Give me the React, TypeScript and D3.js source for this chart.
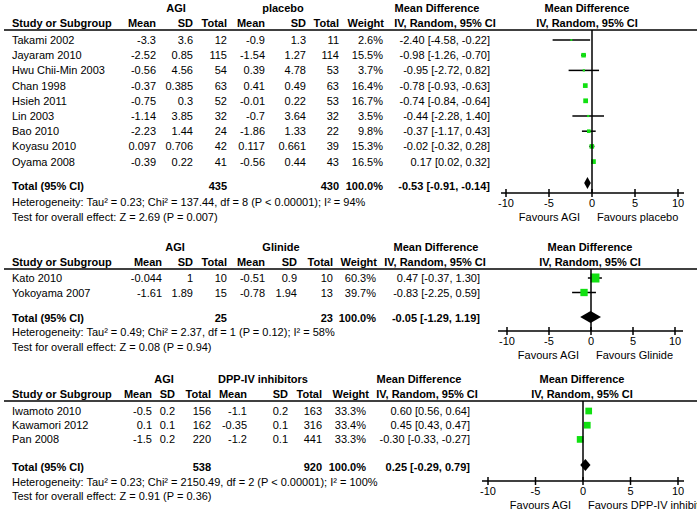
import React from 'react';
import * as d3 from 'd3';

// ---------- DATA ----------
const axisTicks = [-10, -5, 0, 5, 10];

// Panel 1: AGI vs placebo
const studies1 = ['Takami 2002', 'Jayaram 2010', 'Hwu Chii-Min 2003', 'Chan 1998', 'Hsieh 2011', 'Lin 2003', 'Bao 2010', 'Koyasu 2010', 'Oyama 2008'];
const agiMean1 = [-3.3, -2.52, -0.56, -0.37, -0.75, -1.14, -2.23, 0.097, -0.39];
const agiSD1 = [3.6, 0.85, 4.56, 0.385, 0.3, 3.85, 1.44, 0.706, 0.22];
const agiN1 = [12, 115, 54, 63, 52, 32, 24, 42, 41];
const ctlMean1 = [-0.9, -1.54, 0.39, 0.41, -0.01, -0.7, -1.86, 0.117, -0.56];
const ctlSD1 = [1.3, 1.27, 4.78, 0.49, 0.22, 3.64, 1.33, 0.661, 0.44];
const ctlN1 = [11, 114, 53, 63, 53, 32, 22, 39, 43];
const weight1 = [2.6, 15.5, 3.7, 16.4, 16.7, 3.5, 9.8, 15.3, 16.5];
const md1 = [-2.4, -0.98, -0.95, -0.78, -0.74, -0.44, -0.37, -0.02, 0.17];
const lo1 = [-4.58, -1.26, -2.72, -0.93, -0.84, -2.28, -1.17, -0.32, 0.02];
const hi1 = [-0.22, -0.7, 0.82, -0.63, -0.64, 1.4, 0.43, 0.28, 0.32];
const total1 = { agiN: 435, ctlN: 430, md: -0.53, lo: -0.91, hi: -0.14 };
const het1 = 'Heterogeneity: Tau² = 0.23; Chi² = 137.44, df = 8 (P < 0.00001); I² = 94%';
const test1 = 'Test for overall effect: Z = 2.69 (P = 0.007)';

// Panel 2: AGI vs Glinide
const studies2 = ['Kato 2010', 'Yokoyama 2007'];
const agiMean2 = [-0.044, -1.61];
const agiSD2 = [1, 1.89];
const agiN2 = [10, 15];
const ctlMean2 = [-0.51, -0.78];
const ctlSD2 = [0.9, 1.94];
const ctlN2 = [10, 13];
const weight2 = [60.3, 39.7];
const md2 = [0.47, -0.83];
const lo2 = [-0.37, -2.25];
const hi2 = [1.3, 0.59];
const total2 = { agiN: 25, ctlN: 23, md: -0.05, lo: -1.29, hi: 1.19 };
const het2 = 'Heterogeneity: Tau² = 0.49; Chi² = 2.37, df = 1 (P = 0.12); I² = 58%';
const test2 = 'Test for overall effect: Z = 0.08 (P = 0.94)';

// Panel 3: AGI vs DPP-IV inhibitors
const studies3 = ['Iwamoto 2010', 'Kawamori 2012', 'Pan 2008'];
const agiMean3 = [-0.5, 0.1, -1.5];
const agiSD3 = [0.2, 0.1, 0.2];
const agiN3 = [156, 162, 220];
const ctlMean3 = [-1.1, -0.35, -1.2];
const ctlSD3 = [0.2, 0.1, 0.1];
const ctlN3 = [163, 316, 441];
const weight3 = [33.3, 33.4, 33.3];
const md3 = [0.6, 0.45, -0.3];
const lo3 = [0.56, 0.43, -0.33];
const hi3 = [0.64, 0.47, -0.27];
const total3 = { agiN: 538, ctlN: 920, md: 0.25, lo: -0.29, hi: 0.79 };
const het3 = 'Heterogeneity: Tau² = 0.23; Chi² = 2150.49, df = 2 (P < 0.00001); I² = 100%';
const test3 = 'Test for overall effect: Z = 0.91 (P = 0.36)';

// ---------- LAYOUT ----------
const W = 697;
const H = 511;
const FONT = "'Liberation Sans', Arial, Helvetica, sans-serif";
const FS = 11;
const GREEN = '#11e011';

const sizeScale = d3.scaleSqrt().domain([0, 100]).range([0, 11.6]);

const fmt2 = (v: number) => v.toFixed(2);
const fmtCI = (m: number, l: number, h: number) => `${fmt2(m)} [${fmt2(l)}, ${fmt2(h)}]`;

type Layout = {
  line: number; row0: number; step: number; total: number; het: number; test: number;
  axis: number; diamond: number;
  cols: { study: number; aM: number; aSD: number; aN: number; cM: number; cSD: number; cN: number; w: number; wH: number; ci: number };
  agiC: number; ctlC: number; mdC1: number; mdC2: number; fC: number;
  x0: number; x1: number; lineL: number; lineR: number;
};

type PanelData = {
  ctlName: string; favours: string;
  studies: string[]; aM: number[]; aSD: number[]; aN: number[]; cM: number[]; cSD: number[]; cN: number[];
  w: number[]; md: number[]; lo: number[]; hi: number[];
  total: { agiN: number; ctlN: number; md: number; lo: number; hi: number };
  het: string; test: string;
};

const panels: { d: PanelData; L: Layout }[] = [
  {
    d: { ctlName: 'placebo', favours: 'Favours placebo', studies: studies1, aM: agiMean1, aSD: agiSD1, aN: agiN1, cM: ctlMean1, cSD: ctlSD1, cN: ctlN1, w: weight1, md: md1, lo: lo1, hi: hi1, total: total1, het: het1, test: test1 },
    L: {
      line: 30, row0: 40, step: 15.2, total: 186, het: 202, test: 217, axis: 193, diamond: 183,
      cols: { study: 12, aM: 156, aSD: 193, aN: 227, cM: 265, cSD: 306, cN: 339, w: 383, wH: 384, ci: 490 },
      agiC: 176, ctlC: 283, mdC1: 437, mdC2: 445, fC: 587,
      x0: 506, x1: 678, lineL: 501, lineR: 684,
    },
  },
  {
    d: { ctlName: 'Glinide', favours: 'Favours Glinide', studies: studies2, aM: agiMean2, aSD: agiSD2, aN: agiN2, cM: ctlMean2, cSD: ctlSD2, cN: ctlN2, w: weight2, md: md2, lo: lo2, hi: hi2, total: total2, het: het2, test: test2 },
    L: {
      line: 269, row0: 278, step: 14.5, total: 318, het: 332, test: 347, axis: 331, diamond: 317,
      cols: { study: 12, aM: 162, aSD: 193, aN: 227, cM: 265, cSD: 297, cN: 333, w: 376, wH: 377, ci: 480 },
      agiC: 175, ctlC: 281, mdC1: 436, mdC2: 435, fC: 590,
      x0: 507, x1: 675, lineL: 498, lineR: 683,
    },
  },
  {
    d: { ctlName: 'DPP-IV inhibitors', favours: 'Favours DPP-IV inhibitors', studies: studies3, aM: agiMean3, aSD: agiSD3, aN: agiN3, cM: ctlMean3, cSD: ctlSD3, cN: ctlN3, w: weight3, md: md3, lo: lo3, hi: hi3, total: total3, het: het3, test: test3 },
    L: {
      line: 401, row0: 411, step: 14.2, total: 467, het: 482, test: 496, axis: 481, diamond: 465,
      cols: { study: 12, aM: 152, aSD: 175, aN: 211, cM: 247, cSD: 288, cN: 322, w: 366, wH: 369, ci: 470 },
      agiC: 164, ctlC: 263, mdC1: 419, mdC2: 427, fC: 582,
      x0: 488, x1: 678, lineL: 482, lineR: 684,
    },
  },
];

const T = (props: any) => (
  <text fontFamily={FONT} fontSize={FS} fill="#000" dominantBaseline="central" {...props} />
);

function Panel({ d, L }: { d: PanelData; L: Layout }) {
  const x = d3.scaleLinear().domain([-10, 10]).range([L.x0, L.x1]);
  const c = L.cols;
  const gh = L.line - 22;
  const ch = L.line - 7;
  const rowY = (i: number) => L.row0 + i * L.step;
  const zx = x(0);
  return (
    <g>
      {/* group headers */}
      <T x={L.agiC} y={gh} textAnchor="middle" fontWeight="bold">AGI</T>
      <T x={L.ctlC} y={gh} textAnchor="middle" fontWeight="bold">{d.ctlName}</T>
      <T x={L.mdC1} y={gh} textAnchor="middle" fontWeight="bold">Mean Difference</T>
      <T x={L.fC} y={gh} textAnchor="middle" fontWeight="bold">Mean Difference</T>
      {/* column headers */}
      <T x={c.study} y={ch} fontWeight="bold">Study or Subgroup</T>
      <T x={c.aM} y={ch} textAnchor="end" fontWeight="bold">Mean</T>
      <T x={c.aSD} y={ch} textAnchor="end" fontWeight="bold">SD</T>
      <T x={c.aN} y={ch} textAnchor="end" fontWeight="bold">Total</T>
      <T x={c.cM} y={ch} textAnchor="end" fontWeight="bold">Mean</T>
      <T x={c.cSD} y={ch} textAnchor="end" fontWeight="bold">SD</T>
      <T x={c.cN} y={ch} textAnchor="end" fontWeight="bold">Total</T>
      <T x={c.wH} y={ch} textAnchor="end" fontWeight="bold">Weight</T>
      <T x={L.mdC2} y={ch} textAnchor="middle" fontWeight="bold">IV, Random, 95% CI</T>
      <T x={L.fC} y={ch} textAnchor="middle" fontWeight="bold">IV, Random, 95% CI</T>
      <line x1={4} x2={W} y1={L.line} y2={L.line} stroke="#000" strokeWidth={1.5} />
      {/* rows */}
      {d.studies.map((s, i) => {
        const y = rowY(i);
        const sz = sizeScale(d.w[i]);
        return (
          <g key={s}>
            <T x={c.study} y={y}>{s}</T>
            <T x={c.aM} y={y} textAnchor="end">{String(d.aM[i])}</T>
            <T x={c.aSD} y={y} textAnchor="end">{String(d.aSD[i])}</T>
            <T x={c.aN} y={y} textAnchor="end">{String(d.aN[i])}</T>
            <T x={c.cM} y={y} textAnchor="end">{String(d.cM[i])}</T>
            <T x={c.cSD} y={y} textAnchor="end">{String(d.cSD[i])}</T>
            <T x={c.cN} y={y} textAnchor="end">{String(d.cN[i])}</T>
            <T x={c.w} y={y} textAnchor="end">{d.w[i].toFixed(1) + '%'}</T>
            <T x={c.ci} y={y} textAnchor="end">{fmtCI(d.md[i], d.lo[i], d.hi[i])}</T>
            <line x1={x(d.lo[i])} x2={x(d.hi[i])} y1={y} y2={y} stroke="#000" strokeWidth={1.5} />
            <rect x={x(d.md[i]) - sz / 2} y={y - sz / 2} width={sz} height={sz} fill={GREEN} />
          </g>
        );
      })}
      {/* totals */}
      <T x={c.study} y={L.total} fontWeight="bold">Total (95% CI)</T>
      <T x={c.aN} y={L.total} textAnchor="end" fontWeight="bold">{String(d.total.agiN)}</T>
      <T x={c.cN} y={L.total} textAnchor="end" fontWeight="bold">{String(d.total.ctlN)}</T>
      <T x={c.w} y={L.total} textAnchor="end" fontWeight="bold">100.0%</T>
      <T x={c.ci} y={L.total} textAnchor="end" fontWeight="bold">{fmtCI(d.total.md, d.total.lo, d.total.hi)}</T>
      <T x={c.study} y={L.het}>{d.het}</T>
      <T x={c.study} y={L.test}>{d.test}</T>
      {/* zero line */}
      <line x1={zx} x2={zx} y1={L.line} y2={L.axis} stroke="#000" strokeWidth={1.5} />
      {/* diamond */}
      <path
        d={`M${x(d.total.lo)},${L.diamond} L${x(d.total.md)},${L.diamond - 6} L${x(d.total.hi)},${L.diamond} L${x(d.total.md)},${L.diamond + 6} Z`}
        fill="#000"
      />
      {/* axis */}
      <line x1={L.lineL} x2={L.lineR} y1={L.axis} y2={L.axis} stroke="#000" strokeWidth={1.5} />
      {axisTicks.map((t) => (
        <g key={t}>
          <line x1={x(t)} x2={x(t)} y1={L.axis - 4} y2={L.axis + 4} stroke="#000" strokeWidth={1.5} />
          <T x={x(t)} y={L.axis + 10} textAnchor="middle">{String(t)}</T>
        </g>
      ))}
      <T x={zx - 12} y={L.axis + 24} textAnchor="end">Favours AGI</T>
      <T x={zx + 5} y={L.axis + 24}>{d.favours}</T>
    </g>
  );
}

export default function App() {
  return (
    <svg width={W} height={H} style={{ position: 'absolute', left: 0, top: 0, background: '#fff' }}>
      <rect width={W} height={H} fill="#fff" />
      {panels.map((p, i) => (
        <Panel key={i} d={p.d} L={p.L} />
      ))}
    </svg>
  );
}
